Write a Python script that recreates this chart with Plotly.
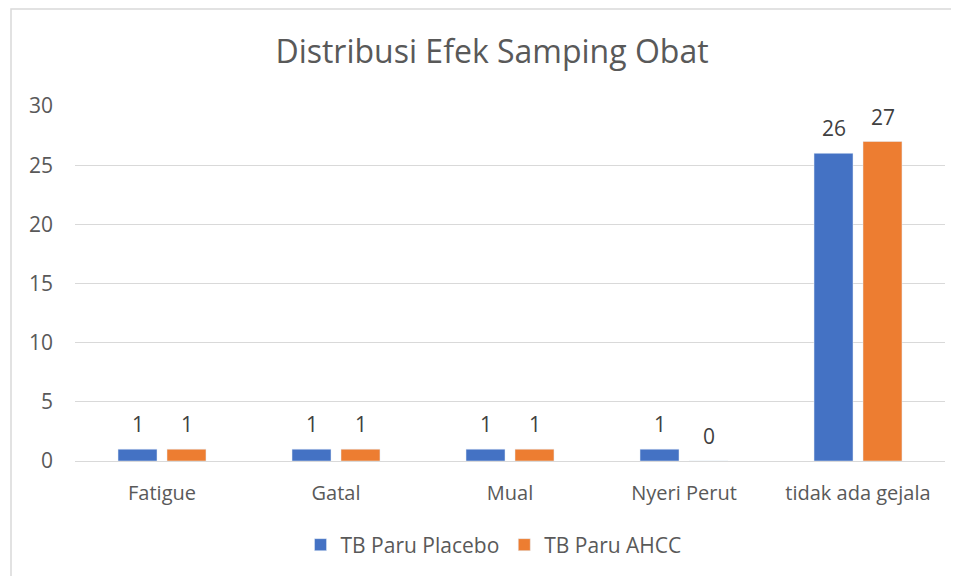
import plotly.graph_objects as go

categories = ["Fatigue", "Gatal", "Mual", "Nyeri Perut", "tidak ada gejala"]
placebo = [1, 1, 1, 1, 26]
ahcc = [1, 1, 1, 0, 27]
series_names = ["TB Paru Placebo", "TB Paru AHCC"]
y_ticks = [0, 5, 10, 15, 20, 25, 30]

FONT = "Open Sans, Segoe UI, sans-serif"
GRAY = "#595959"
BLUE = "#4472C4"
ORANGE = "#ED7D31"

# page body has an 8px margin: figure pixel = reference pixel - 8
OFF = 8
W, H = 959 - OFF, 576 - OFF
PL, PR = 75 - OFF, 945 - OFF
PT, PB = 106 - OFF, 461 - OFF

fig = go.Figure()
fig.add_trace(go.Bar(x=categories, y=placebo, name=series_names[0], marker_color=BLUE))
fig.add_trace(go.Bar(x=categories, y=ahcc, name=series_names[1], marker_color=ORANGE))

annotations = []
for vals, shift in ((placebo, -24.5), (ahcc, 24.5)):
    for c, v in zip(categories, vals):
        annotations.append(dict(x=c, y=v, xref="x", yref="y", text=str(v), showarrow=False,
                                xshift=shift, yshift=25, font=dict(family=FONT, size=21, color="#404040")))

pw, ph = PR - PL, PB - PT
fig.update_layout(
    width=W, height=H,
    margin=dict(l=PL, r=W - PR, t=PT, b=H - PB, autoexpand=False),
    paper_bgcolor="white", plot_bgcolor="white",
    barmode="group", bargap=0.437, bargroupgap=0.204,
    title=dict(text="Distribusi Efek Samping Obat", x=(492 - OFF) / W, xanchor="center",
               y=1 - (52 - OFF) / H, yanchor="middle",
               font=dict(family=FONT, size=32, color=GRAY)),
    xaxis=dict(showgrid=False, showline=False, ticks="", ticklabelstandoff=18,
               tickfont=dict(family=FONT, size=20, color=GRAY)),
    yaxis=dict(range=[0, 30], tickvals=y_ticks, showgrid=True, gridcolor="#D9D9D9", gridwidth=1,
               zeroline=True, zerolinecolor="#D9D9D9", zerolinewidth=1,
               ticks="", ticklabelstandoff=21,
               tickfont=dict(family=FONT, size=21, color=GRAY)),
    legend=dict(orientation="h", x=(497 - PL - OFF) / pw - 0.004, xanchor="center",
                y=(PB - (545 - OFF)) / ph, yanchor="middle",
                font=dict(family=FONT, size=21, color=GRAY), itemwidth=30,
                traceorder="normal"),
    annotations=annotations,
    shapes=[dict(type="rect", xref="paper", yref="paper",
                 x0=(11 - OFF - PL) / pw, x1=(970 - OFF - PL) / pw,
                 y0=(PB - (590 - OFF)) / ph, y1=(PB - 1) / ph,
                 line=dict(color="#D9D9D9", width=1.5), fillcolor="rgba(0,0,0,0)", layer="below")],
)

fig.write_html("out.html")
